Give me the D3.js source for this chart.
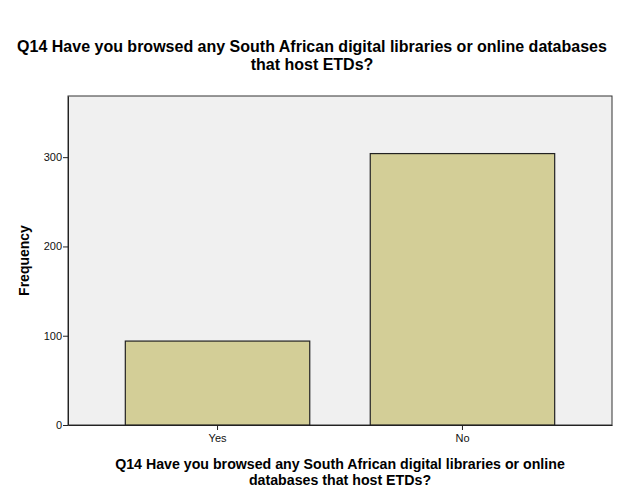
<!DOCTYPE html>
<html>
<head>
<meta charset="utf-8">
<script src="https://cdn.jsdelivr.net/npm/d3@7"></script>
<style>
body { margin: 0; background: #fff; }
text { font-family: "Liberation Sans", Arial, sans-serif; }
</style>
</head>
<body>
<div id="wrapper"></div>
<script>
const categories = ["Yes", "No"];
const counts = [94, 304];
const yTicks = [0, 100, 200, 300];
const title = ["Q14 Have you browsed any South African digital libraries or online databases", "that host ETDs?"];
const xTitle = ["Q14 Have you browsed any South African digital libraries or online", "databases that host ETDs?"];

function build() {
    var dimension = {
        width: 624,
        height: 500,
        margin: { top: 96, right: 12, bottom: 75, left: 68 }
    };
    dimension.boundedWidth = dimension.width - dimension.margin.left - dimension.margin.right;
    dimension.boundedHeight = dimension.height - dimension.margin.top - dimension.margin.bottom;

    const wrapper = d3.select("#wrapper")
        .append("svg")
        .attr("width", dimension.width)
        .attr("height", dimension.height);

    const bounds = wrapper.append("g")
        .attr("transform", `translate(${dimension.margin.left},${dimension.margin.top})`);

    const x = d3.scaleBand()
        .domain(categories)
        .range([0, dimension.boundedWidth])
        .paddingInner(0.247)
        .paddingOuter(0.234);

    const y = d3.scaleLinear()
        .domain([0, 368.5])
        .range([dimension.boundedHeight, 0]);

    // plot background
    bounds.append("rect")
        .attr("width", dimension.boundedWidth)
        .attr("height", dimension.boundedHeight)
        .attr("fill", "#f0f0f0")
        .attr("stroke", "#333")
        .attr("stroke-width", 1);

    bounds.selectAll("rect.bar")
        .data(counts)
        .enter()
        .append("rect")
        .attr("class", "bar")
        .attr("x", (d, i) => x(categories[i]))
        .attr("y", d => y(d))
        .attr("width", x.bandwidth())
        .attr("height", d => y(0) - y(d))
        .attr("fill", "#d3ce97")
        .attr("stroke", "#222")
        .attr("stroke-width", 1.2);

    const yAxis = bounds.append("g")
        .call(d3.axisLeft(y).tickValues(yTicks).tickSize(5).tickSizeOuter(0));
    yAxis.select(".domain").attr("stroke", "#222");
    yAxis.selectAll("line").attr("stroke", "#222");
    yAxis.selectAll("text")
        .style("font-size", "11px")
        .attr("fill", "#111")
        .attr("x", -6);

    const xAxis = bounds.append("g")
        .attr("transform", `translate(0,${dimension.boundedHeight})`)
        .call(d3.axisBottom(x).tickSize(5).tickSizeOuter(0));
    xAxis.select(".domain").attr("stroke", "#222");
    xAxis.selectAll("line").attr("stroke", "#222");
    xAxis.selectAll("text")
        .style("font-size", "11px")
        .attr("fill", "#111")
        .attr("y", 9);

    wrapper.append("g")
        .selectAll("text")
        .data(title)
        .enter()
        .append("text")
        .attr("x", dimension.width / 2)
        .attr("y", (d, i) => 52 + i * 18)
        .attr("text-anchor", "middle")
        .style("font-size", "16px")
        .style("font-weight", "bold")
        .text(d => d);

    wrapper.append("g")
        .selectAll("text")
        .data(xTitle)
        .enter()
        .append("text")
        .attr("x", dimension.margin.left + dimension.boundedWidth / 2)
        .attr("y", (d, i) => 469 + i * 16)
        .attr("text-anchor", "middle")
        .style("font-size", "14.2px")
        .style("font-weight", "bold")
        .text(d => d);

    wrapper.append("text")
        .attr("transform", `translate(29,${dimension.margin.top + dimension.boundedHeight / 2}) rotate(-90)`)
        .attr("text-anchor", "middle")
        .style("font-size", "14px")
        .style("font-weight", "bold")
        .text("Frequency");
}

build();
</script>
</body>
</html>
